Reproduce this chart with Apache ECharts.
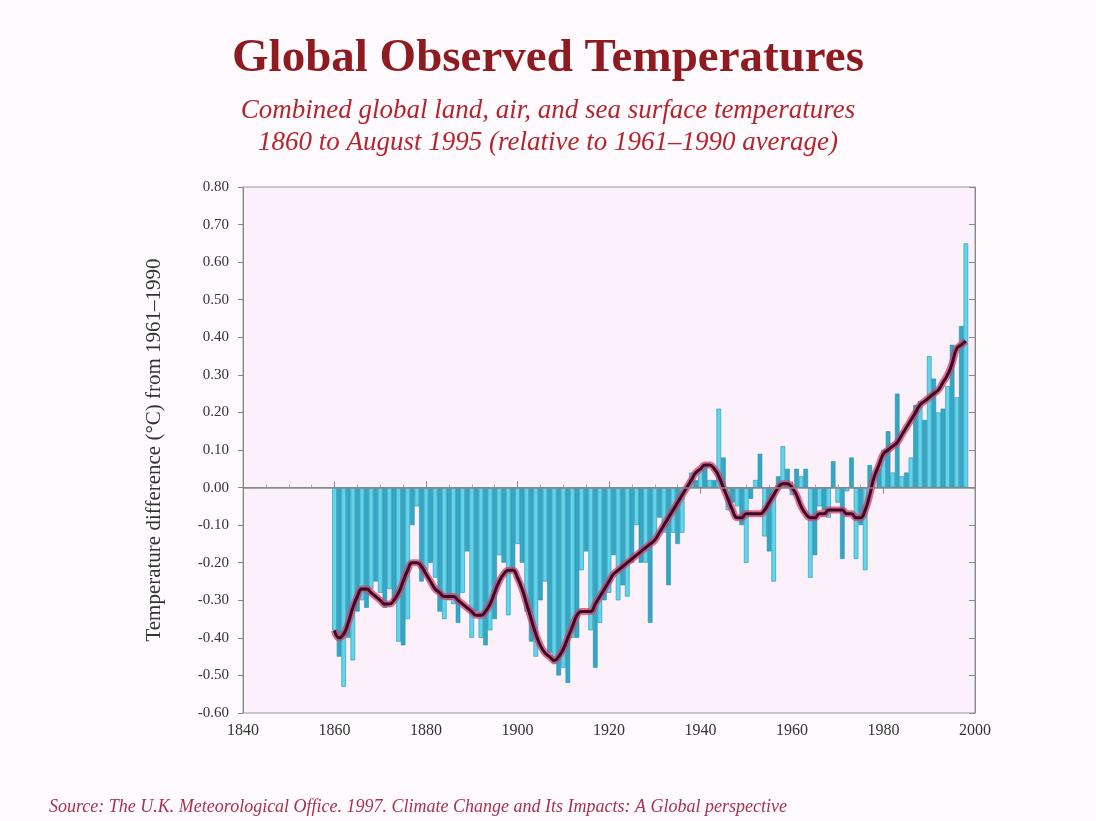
<!DOCTYPE html>
<html>
<head>
<meta charset="utf-8">
<title>Global Observed Temperatures</title>
<script src="https://cdn.jsdelivr.net/npm/echarts@6/dist/echarts.min.js"></script>
<style>
  html, body { margin: 0; padding: 0; background: #fefafd; }
  #chart { width: 1096px; height: 821px; }
</style>
</head>
<body>
<div id="chart"></div>
<script>
// first year of the annual series
const startYear = 1860;

const annual = [
  -0.38, -0.45, -0.53, -0.40, -0.46, -0.33, -0.30, -0.32, -0.27, -0.25,
  -0.28, -0.32, -0.27, -0.30, -0.41, -0.42, -0.35, -0.10, -0.05, -0.25,
  -0.22, -0.20, -0.24, -0.33, -0.35, -0.30, -0.31, -0.36, -0.28, -0.17,
  -0.40, -0.33, -0.40, -0.42, -0.38, -0.35, -0.18, -0.20, -0.34, -0.22,
  -0.15, -0.20, -0.33, -0.41, -0.45, -0.30, -0.25, -0.44, -0.47, -0.50,
  -0.48, -0.52, -0.40, -0.40, -0.22, -0.17, -0.38, -0.48, -0.36, -0.30,
  -0.28, -0.18, -0.30, -0.26, -0.29, -0.20, -0.10, -0.20, -0.20, -0.36,
  -0.14, -0.08, -0.12, -0.26, -0.12, -0.15, -0.12, 0.00, 0.04, 0.02,
  0.05, 0.06, 0.02, 0.02, 0.21, 0.08, -0.06, -0.04, -0.05, -0.10,
  -0.20, -0.03, 0.02, 0.09, -0.13, -0.17, -0.25, 0.03, 0.11, 0.05,
  -0.02, 0.05, 0.03, 0.05, -0.24, -0.18, -0.05, -0.06, -0.08, 0.07,
  -0.04, -0.19, -0.01, 0.08, -0.19, -0.10, -0.22, 0.06, 0.00, 0.05,
  0.10, 0.15, 0.04, 0.25, 0.03, 0.04, 0.08, 0.22, 0.23, 0.18,
  0.35, 0.29, 0.20, 0.21, 0.27, 0.38, 0.24, 0.43, 0.65
];

// smoothed curve, same years
const smoothed = [
  -0.38, -0.40, -0.39, -0.36, -0.32, -0.29, -0.27, -0.27, -0.28, -0.29,
  -0.30, -0.31, -0.31, -0.30, -0.28, -0.25, -0.22, -0.20, -0.20, -0.21,
  -0.23, -0.25, -0.27, -0.28, -0.29, -0.29, -0.29, -0.30, -0.31, -0.32,
  -0.33, -0.34, -0.34, -0.33, -0.31, -0.28, -0.25, -0.23, -0.22, -0.22,
  -0.24, -0.27, -0.31, -0.35, -0.39, -0.42, -0.44, -0.45, -0.46, -0.45,
  -0.43, -0.40, -0.37, -0.34, -0.33, -0.33, -0.33, -0.31, -0.29, -0.27,
  -0.25, -0.23, -0.22, -0.21, -0.20, -0.19, -0.18, -0.17, -0.16, -0.15,
  -0.14, -0.12, -0.10, -0.08, -0.06, -0.04, -0.02, 0.00, 0.02, 0.04,
  0.05, 0.06, 0.06, 0.05, 0.03, 0.00, -0.03, -0.06, -0.08, -0.08,
  -0.07, -0.07, -0.07, -0.07, -0.06, -0.04, -0.02, 0.00, 0.01, 0.01,
  0.00, -0.02, -0.05, -0.07, -0.08, -0.08, -0.07, -0.07, -0.06, -0.06,
  -0.06, -0.06, -0.07, -0.07, -0.08, -0.08, -0.06, -0.02, 0.03, 0.06,
  0.09, 0.10, 0.11, 0.12, 0.14, 0.16, 0.18, 0.20, 0.22, 0.23,
  0.24, 0.25, 0.26, 0.28, 0.30, 0.33, 0.37, 0.38, 0.39
];

const barData = annual.map((v, i) => ({
  value: [startYear + i, v],
  itemStyle: { color: i % 2 === 0 ? '#5fd6ee' : '#33a8c6' }
}));
const lineData = smoothed.map((v, i) => [startYear + i, v]);

const serif = '"Liberation Serif", "DejaVu Serif", serif';

const chart = echarts.init(document.getElementById('chart'));
chart.setOption({
  backgroundColor: '#fefafd',
  animation: false,
  title: [
    {
      text: 'Global Observed Temperatures',
      left: 'center', top: 30,
      textStyle: { fontFamily: serif, fontSize: 47, fontWeight: 'bold', color: '#8e1b1f' }
    },
    {
      text: 'Combined global land, air, and sea surface temperatures\n1860 to August 1995 (relative to 1961–1990 average)',
      left: 'center', top: 90,
      textStyle: { fontFamily: serif, fontSize: 27, fontStyle: 'italic', fontWeight: 'normal', color: '#b3262e', lineHeight: 32, align: 'center' }
    },
    {
      text: 'Source: The U.K. Meteorological Office. 1997. Climate Change and Its Impacts: A Global perspective',
      left: 44, top: 793,
      textStyle: { fontFamily: serif, fontSize: 18, fontStyle: 'italic', fontWeight: 'normal', color: '#a8324f' }
    }
  ],
  grid: {
    left: 243, right: 121, top: 187, bottom: 108,
    show: true, backgroundColor: '#fcf1fa', borderColor: '#9a9a9a', borderWidth: 1
  },
  xAxis: [
    {
      type: 'value', min: 1840, max: 2000, interval: 20,
      axisLine: { show: true, lineStyle: { color: '#888' } },
      axisTick: { show: true, inside: true, length: 6, lineStyle: { color: '#888' } },
      minorTick: { show: true, splitNumber: 4, length: 3, lineStyle: { color: '#aaa' } },
      splitLine: { show: false },
      axisLabel: { fontFamily: serif, fontSize: 16, color: '#333', margin: 10, formatter: v => String(v) }
    },
    {
      type: 'value', min: 1840, max: 2000, interval: 20, position: 'top',
      axisLine: { show: true, lineStyle: { color: '#888' } },
      axisTick: { show: true, inside: true, length: 6, lineStyle: { color: '#888' } },
      axisLabel: { show: false },
      splitLine: { show: false }
    }
  ],
  yAxis: [
    {
      type: 'value', min: -0.6, max: 0.8, interval: 0.1,
      name: 'Temperature difference (°C) from 1961–1990',
      nameLocation: 'middle', nameRotate: 90, nameGap: 78,
      nameTextStyle: { fontFamily: serif, fontSize: 21, color: '#333' },
      axisLine: { show: true, lineStyle: { color: '#888' } },
      axisTick: { show: true, length: 5, lineStyle: { color: '#888' } },
      splitLine: { show: false },
      axisLabel: {
        fontFamily: serif, fontSize: 15, color: '#333', margin: 14,
        formatter: v => v.toFixed(2)
      }
    },
    {
      type: 'value', min: -0.6, max: 0.8, interval: 0.1, position: 'right',
      axisLine: { show: true, lineStyle: { color: '#888' } },
      axisTick: { show: true, inside: true, length: 6, lineStyle: { color: '#888' } },
      axisLabel: { show: false },
      splitLine: { show: false }
    }
  ],
  series: [
    {
      type: 'bar',
      data: barData,
      barWidth: 4.6,
      itemStyle: { borderColor: '#2a8ea8', borderWidth: 0.6 },
      markLine: {
        silent: true, symbol: 'none', label: { show: false },
        lineStyle: { color: '#8a8a8a', type: 'solid', width: 1.5 },
        data: [{ yAxis: 0 }]
      },
      z: 2
    },
    {
      type: 'line',
      data: lineData,
      smooth: true, showSymbol: false,
      lineStyle: { color: '#d0406a', width: 7, opacity: 0.75 },
      z: 3
    },
    {
      type: 'line',
      data: lineData,
      smooth: true, showSymbol: false,
      lineStyle: { color: '#3c0a26', width: 3 },
      z: 4
    }
  ]
});
</script>
</body>
</html>
